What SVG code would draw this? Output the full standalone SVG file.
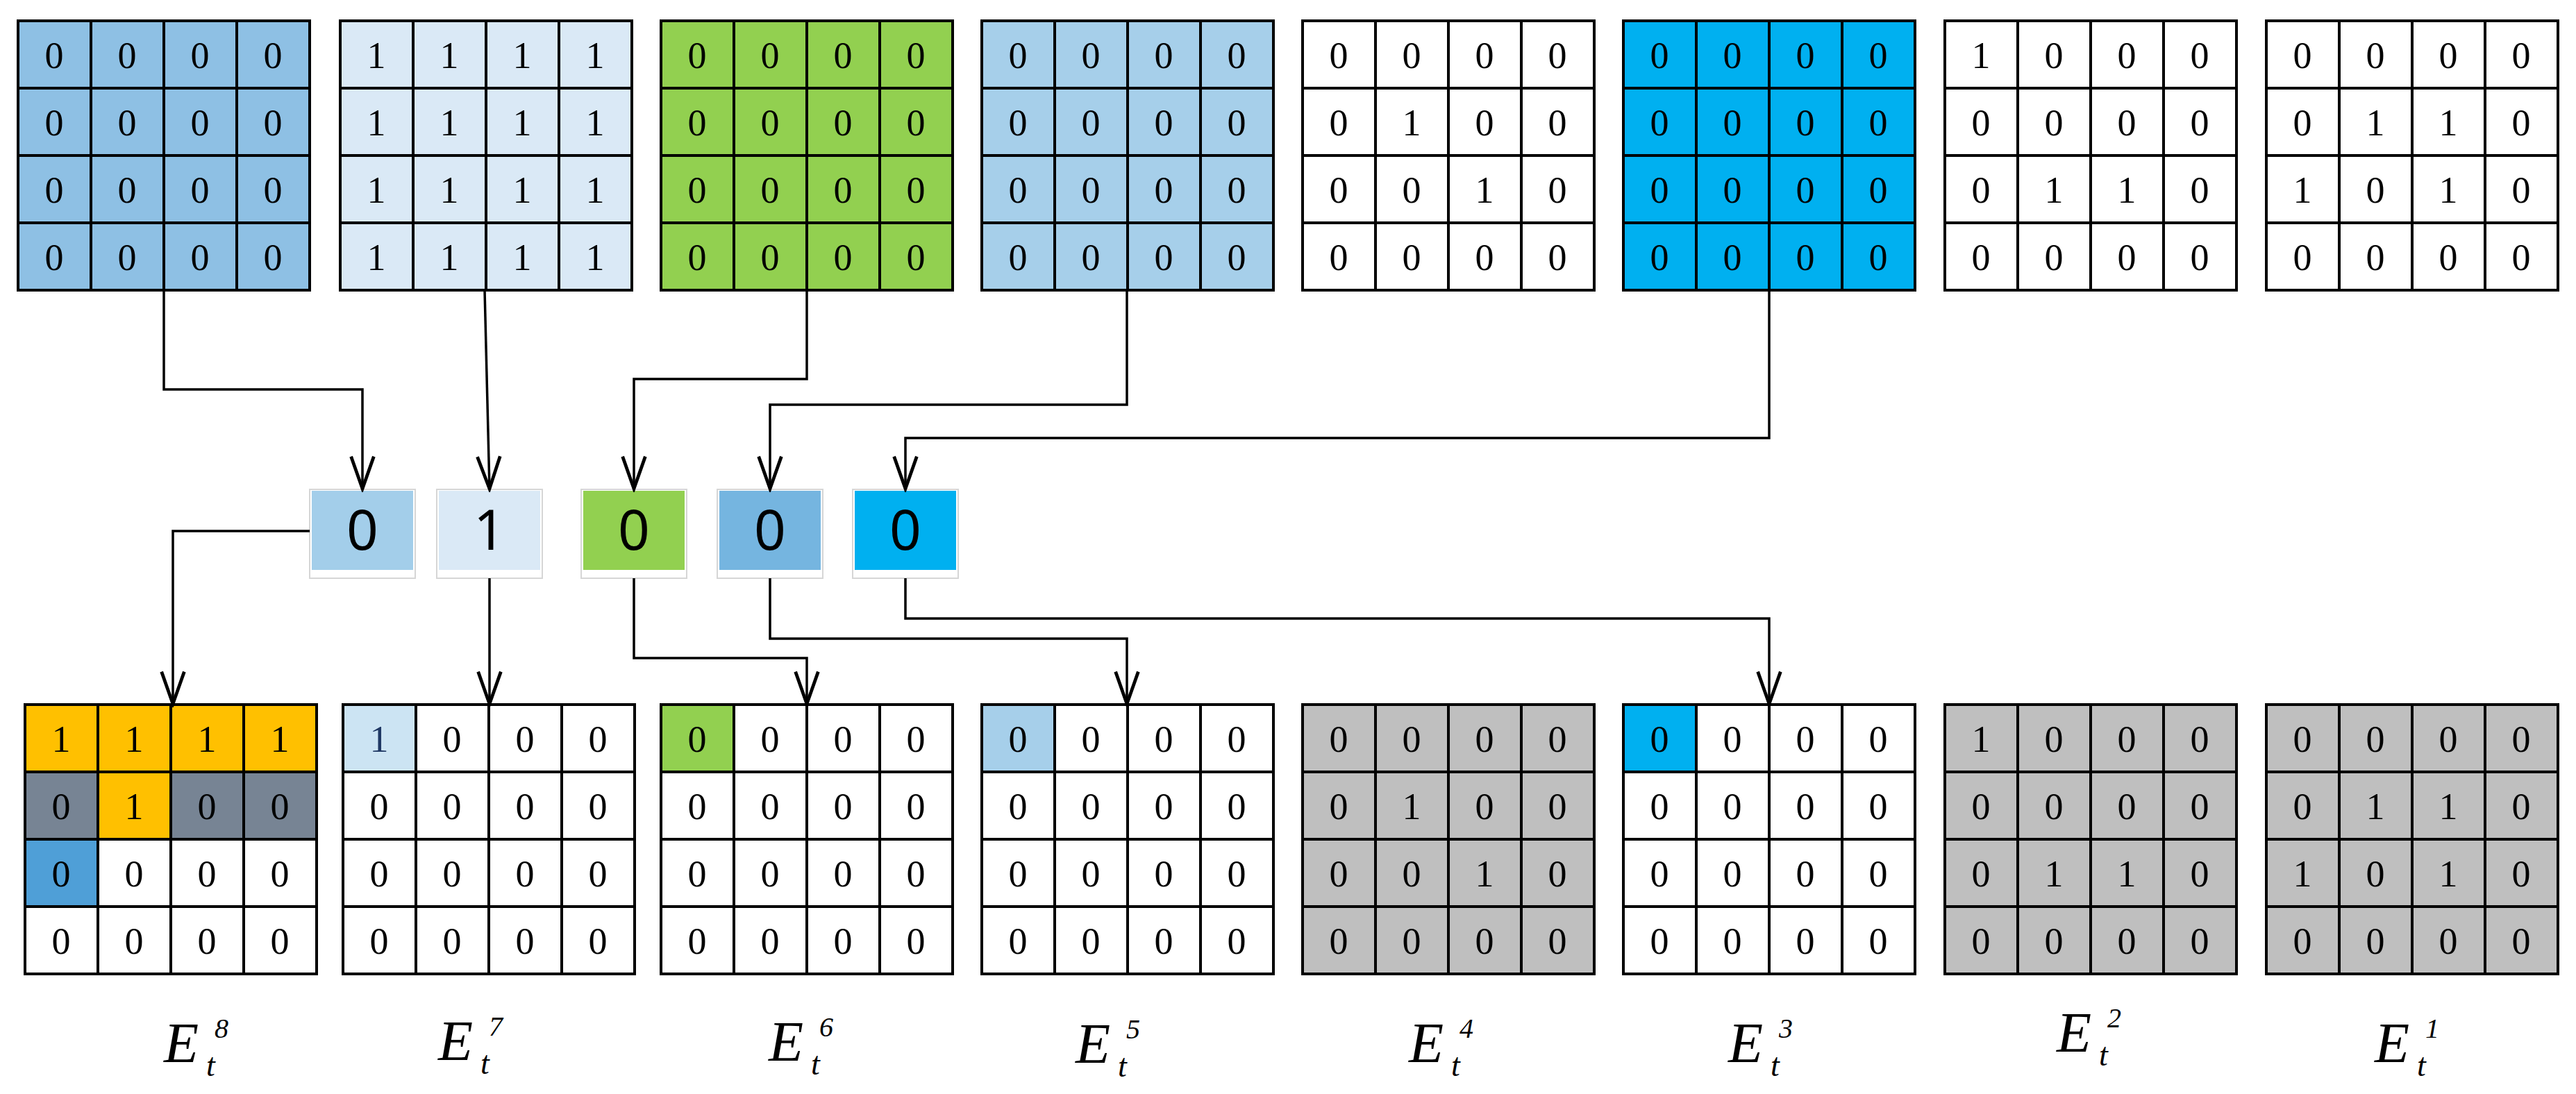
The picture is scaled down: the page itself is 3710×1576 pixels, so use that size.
<svg xmlns="http://www.w3.org/2000/svg" width="3710" height="1576" viewBox="0 0 3710 1576">
<style>
.gl{fill:none;stroke:#000;stroke-width:4}
.c{font-family:"Liberation Serif","Times New Roman",serif;font-size:54px;text-anchor:middle;fill:#000}
.b{font-family:"Noto Sans","Open Sans",sans-serif;font-size:80px;text-anchor:middle;fill:#000}
.ob{fill:#fff;stroke:#d6d6d6;stroke-width:2}
.cn{fill:none;stroke:#000;stroke-width:3.5;marker-end:url(#ah)}
.E{font-family:"Liberation Serif","Times New Roman",serif;font-style:italic;fill:#000}
</style>
<defs>
<marker id="ah" markerUnits="userSpaceOnUse" markerWidth="60" markerHeight="60" viewBox="-40 -20 44 40" refX="0" refY="0" orient="auto">
<path d="M-34,-12 L0,0 L-34,12" fill="none" stroke="#000" stroke-width="3.5"/>
</marker>
<path id="gridlines" d="M0,0H420V388H0Z M105,0V388 M210,0V388 M315,0V388 M0,97H420 M0,194H420 M0,291H420" class="gl"/>
</defs>

<g id="top1" transform="translate(26,30)"><rect width="420" height="388" fill="#8EC0E4"/><use href="#gridlines"/>
<text class="c" x="52" y="68">0</text><text class="c" x="157" y="68">0</text><text class="c" x="262" y="68">0</text><text class="c" x="367" y="68">0</text>
<text class="c" x="52" y="165">0</text><text class="c" x="157" y="165">0</text><text class="c" x="262" y="165">0</text><text class="c" x="367" y="165">0</text>
<text class="c" x="52" y="262">0</text><text class="c" x="157" y="262">0</text><text class="c" x="262" y="262">0</text><text class="c" x="367" y="262">0</text>
<text class="c" x="52" y="359">0</text><text class="c" x="157" y="359">0</text><text class="c" x="262" y="359">0</text><text class="c" x="367" y="359">0</text></g>

<g id="top2" transform="translate(490,30)"><rect width="420" height="388" fill="#DAE9F6"/><use href="#gridlines"/>
<text class="c" x="52" y="68">1</text><text class="c" x="157" y="68">1</text><text class="c" x="262" y="68">1</text><text class="c" x="367" y="68">1</text>
<text class="c" x="52" y="165">1</text><text class="c" x="157" y="165">1</text><text class="c" x="262" y="165">1</text><text class="c" x="367" y="165">1</text>
<text class="c" x="52" y="262">1</text><text class="c" x="157" y="262">1</text><text class="c" x="262" y="262">1</text><text class="c" x="367" y="262">1</text>
<text class="c" x="52" y="359">1</text><text class="c" x="157" y="359">1</text><text class="c" x="262" y="359">1</text><text class="c" x="367" y="359">1</text></g>

<g id="top3" transform="translate(952,30)"><rect width="420" height="388" fill="#92D050"/><use href="#gridlines"/>
<text class="c" x="52" y="68">0</text><text class="c" x="157" y="68">0</text><text class="c" x="262" y="68">0</text><text class="c" x="367" y="68">0</text>
<text class="c" x="52" y="165">0</text><text class="c" x="157" y="165">0</text><text class="c" x="262" y="165">0</text><text class="c" x="367" y="165">0</text>
<text class="c" x="52" y="262">0</text><text class="c" x="157" y="262">0</text><text class="c" x="262" y="262">0</text><text class="c" x="367" y="262">0</text>
<text class="c" x="52" y="359">0</text><text class="c" x="157" y="359">0</text><text class="c" x="262" y="359">0</text><text class="c" x="367" y="359">0</text></g>

<g id="top4" transform="translate(1414,30)"><rect width="420" height="388" fill="#A6CFEA"/><use href="#gridlines"/>
<text class="c" x="52" y="68">0</text><text class="c" x="157" y="68">0</text><text class="c" x="262" y="68">0</text><text class="c" x="367" y="68">0</text>
<text class="c" x="52" y="165">0</text><text class="c" x="157" y="165">0</text><text class="c" x="262" y="165">0</text><text class="c" x="367" y="165">0</text>
<text class="c" x="52" y="262">0</text><text class="c" x="157" y="262">0</text><text class="c" x="262" y="262">0</text><text class="c" x="367" y="262">0</text>
<text class="c" x="52" y="359">0</text><text class="c" x="157" y="359">0</text><text class="c" x="262" y="359">0</text><text class="c" x="367" y="359">0</text></g>

<g id="top5" transform="translate(1876,30)"><rect width="420" height="388" fill="#fff"/><use href="#gridlines"/>
<text class="c" x="52" y="68">0</text><text class="c" x="157" y="68">0</text><text class="c" x="262" y="68">0</text><text class="c" x="367" y="68">0</text>
<text class="c" x="52" y="165">0</text><text class="c" x="157" y="165">1</text><text class="c" x="262" y="165">0</text><text class="c" x="367" y="165">0</text>
<text class="c" x="52" y="262">0</text><text class="c" x="157" y="262">0</text><text class="c" x="262" y="262">1</text><text class="c" x="367" y="262">0</text>
<text class="c" x="52" y="359">0</text><text class="c" x="157" y="359">0</text><text class="c" x="262" y="359">0</text><text class="c" x="367" y="359">0</text></g>

<g id="top6" transform="translate(2338,30)"><rect width="420" height="388" fill="#00B0F0"/><use href="#gridlines"/>
<text class="c" x="52" y="68">0</text><text class="c" x="157" y="68">0</text><text class="c" x="262" y="68">0</text><text class="c" x="367" y="68">0</text>
<text class="c" x="52" y="165">0</text><text class="c" x="157" y="165">0</text><text class="c" x="262" y="165">0</text><text class="c" x="367" y="165">0</text>
<text class="c" x="52" y="262">0</text><text class="c" x="157" y="262">0</text><text class="c" x="262" y="262">0</text><text class="c" x="367" y="262">0</text>
<text class="c" x="52" y="359">0</text><text class="c" x="157" y="359">0</text><text class="c" x="262" y="359">0</text><text class="c" x="367" y="359">0</text></g>

<g id="top7" transform="translate(2801,30)"><rect width="420" height="388" fill="#fff"/><use href="#gridlines"/>
<text class="c" x="52" y="68">1</text><text class="c" x="157" y="68">0</text><text class="c" x="262" y="68">0</text><text class="c" x="367" y="68">0</text>
<text class="c" x="52" y="165">0</text><text class="c" x="157" y="165">0</text><text class="c" x="262" y="165">0</text><text class="c" x="367" y="165">0</text>
<text class="c" x="52" y="262">0</text><text class="c" x="157" y="262">1</text><text class="c" x="262" y="262">1</text><text class="c" x="367" y="262">0</text>
<text class="c" x="52" y="359">0</text><text class="c" x="157" y="359">0</text><text class="c" x="262" y="359">0</text><text class="c" x="367" y="359">0</text></g>

<g id="top8" transform="translate(3264,30)"><rect width="420" height="388" fill="#fff"/><use href="#gridlines"/>
<text class="c" x="52" y="68">0</text><text class="c" x="157" y="68">0</text><text class="c" x="262" y="68">0</text><text class="c" x="367" y="68">0</text>
<text class="c" x="52" y="165">0</text><text class="c" x="157" y="165">1</text><text class="c" x="262" y="165">1</text><text class="c" x="367" y="165">0</text>
<text class="c" x="52" y="262">1</text><text class="c" x="157" y="262">0</text><text class="c" x="262" y="262">1</text><text class="c" x="367" y="262">0</text>
<text class="c" x="52" y="359">0</text><text class="c" x="157" y="359">0</text><text class="c" x="262" y="359">0</text><text class="c" x="367" y="359">0</text></g>

<g id="box1"><rect class="ob" x="446" y="705" width="152" height="128"/><rect x="449" y="707" width="146" height="114" fill="#A3CEEA"/><text class="b" x="522" y="792">0</text></g>
<g id="box2"><rect class="ob" x="629" y="705" width="152" height="128"/><rect x="632" y="707" width="146" height="114" fill="#DAE9F6"/><text class="b" x="705" y="792">1</text></g>
<g id="box3"><rect class="ob" x="837" y="705" width="152" height="128"/><rect x="840" y="707" width="146" height="114" fill="#92D050"/><text class="b" x="913" y="792">0</text></g>
<g id="box4"><rect class="ob" x="1033" y="705" width="152" height="128"/><rect x="1036" y="707" width="146" height="114" fill="#75B5E0"/><text class="b" x="1109" y="792">0</text></g>
<g id="box5"><rect class="ob" x="1228" y="705" width="152" height="128"/><rect x="1231" y="707" width="146" height="114" fill="#00B0F0"/><text class="b" x="1304" y="792">0</text></g>

<g id="bot8" transform="translate(36,1015)"><rect width="420" height="388" fill="#fff"/><rect width="420" height="97" fill="#FFC000"/><rect y="97" width="420" height="97" fill="#778494"/><rect x="105" y="97" width="105" height="97" fill="#FFC000"/><rect y="194" width="105" height="97" fill="#4F9FD7"/><use href="#gridlines"/>
<text class="c" x="52" y="68">1</text><text class="c" x="157" y="68">1</text><text class="c" x="262" y="68">1</text><text class="c" x="367" y="68">1</text>
<text class="c" x="52" y="165">0</text><text class="c" x="157" y="165">1</text><text class="c" x="262" y="165">0</text><text class="c" x="367" y="165">0</text>
<text class="c" x="52" y="262">0</text><text class="c" x="157" y="262">0</text><text class="c" x="262" y="262">0</text><text class="c" x="367" y="262">0</text>
<text class="c" x="52" y="359">0</text><text class="c" x="157" y="359">0</text><text class="c" x="262" y="359">0</text><text class="c" x="367" y="359">0</text>
<text class="E" x="200" y="515" font-size="82">E</text><text class="E" x="273" y="480" font-size="40" font-style="normal">8</text><text class="E" x="261" y="535" font-size="46">t</text></g>

<g id="bot7" transform="translate(494,1015)"><rect width="420" height="388" fill="#fff"/><rect width="105" height="97" fill="#CCE4F3"/><use href="#gridlines"/>
<text class="c" x="52" y="68" fill="#1F3864" style="fill:#1F3864">1</text><text class="c" x="157" y="68">0</text><text class="c" x="262" y="68">0</text><text class="c" x="367" y="68">0</text>
<text class="c" x="52" y="165">0</text><text class="c" x="157" y="165">0</text><text class="c" x="262" y="165">0</text><text class="c" x="367" y="165">0</text>
<text class="c" x="52" y="262">0</text><text class="c" x="157" y="262">0</text><text class="c" x="262" y="262">0</text><text class="c" x="367" y="262">0</text>
<text class="c" x="52" y="359">0</text><text class="c" x="157" y="359">0</text><text class="c" x="262" y="359">0</text><text class="c" x="367" y="359">0</text>
<text class="E" x="137" y="512" font-size="82">E</text><text class="E" x="210" y="477" font-size="40" font-style="normal">7</text><text class="E" x="198" y="532" font-size="46">t</text></g>

<g id="bot6" transform="translate(952,1015)"><rect width="420" height="388" fill="#fff"/><rect width="105" height="97" fill="#92D050"/><use href="#gridlines"/>
<text class="c" x="52" y="68">0</text><text class="c" x="157" y="68">0</text><text class="c" x="262" y="68">0</text><text class="c" x="367" y="68">0</text>
<text class="c" x="52" y="165">0</text><text class="c" x="157" y="165">0</text><text class="c" x="262" y="165">0</text><text class="c" x="367" y="165">0</text>
<text class="c" x="52" y="262">0</text><text class="c" x="157" y="262">0</text><text class="c" x="262" y="262">0</text><text class="c" x="367" y="262">0</text>
<text class="c" x="52" y="359">0</text><text class="c" x="157" y="359">0</text><text class="c" x="262" y="359">0</text><text class="c" x="367" y="359">0</text>
<text class="E" x="155" y="513" font-size="82">E</text><text class="E" x="228" y="478" font-size="40" font-style="normal">6</text><text class="E" x="216" y="533" font-size="46">t</text></g>

<g id="bot5" transform="translate(1414,1015)"><rect width="420" height="388" fill="#fff"/><rect width="105" height="97" fill="#A6CFEA"/><use href="#gridlines"/>
<text class="c" x="52" y="68">0</text><text class="c" x="157" y="68">0</text><text class="c" x="262" y="68">0</text><text class="c" x="367" y="68">0</text>
<text class="c" x="52" y="165">0</text><text class="c" x="157" y="165">0</text><text class="c" x="262" y="165">0</text><text class="c" x="367" y="165">0</text>
<text class="c" x="52" y="262">0</text><text class="c" x="157" y="262">0</text><text class="c" x="262" y="262">0</text><text class="c" x="367" y="262">0</text>
<text class="c" x="52" y="359">0</text><text class="c" x="157" y="359">0</text><text class="c" x="262" y="359">0</text><text class="c" x="367" y="359">0</text>
<text class="E" x="135" y="516" font-size="82">E</text><text class="E" x="208" y="481" font-size="40" font-style="normal">5</text><text class="E" x="196" y="536" font-size="46">t</text></g>

<g id="bot4" transform="translate(1876,1015)"><rect width="420" height="388" fill="#BFBFBF"/><use href="#gridlines"/>
<text class="c" x="52" y="68">0</text><text class="c" x="157" y="68">0</text><text class="c" x="262" y="68">0</text><text class="c" x="367" y="68">0</text>
<text class="c" x="52" y="165">0</text><text class="c" x="157" y="165">1</text><text class="c" x="262" y="165">0</text><text class="c" x="367" y="165">0</text>
<text class="c" x="52" y="262">0</text><text class="c" x="157" y="262">0</text><text class="c" x="262" y="262">1</text><text class="c" x="367" y="262">0</text>
<text class="c" x="52" y="359">0</text><text class="c" x="157" y="359">0</text><text class="c" x="262" y="359">0</text><text class="c" x="367" y="359">0</text>
<text class="E" x="153" y="515" font-size="82">E</text><text class="E" x="226" y="480" font-size="40" font-style="normal">4</text><text class="E" x="214" y="535" font-size="46">t</text></g>

<g id="bot3" transform="translate(2338,1015)"><rect width="420" height="388" fill="#fff"/><rect width="105" height="97" fill="#00B0F0"/><use href="#gridlines"/>
<text class="c" x="52" y="68">0</text><text class="c" x="157" y="68">0</text><text class="c" x="262" y="68">0</text><text class="c" x="367" y="68">0</text>
<text class="c" x="52" y="165">0</text><text class="c" x="157" y="165">0</text><text class="c" x="262" y="165">0</text><text class="c" x="367" y="165">0</text>
<text class="c" x="52" y="262">0</text><text class="c" x="157" y="262">0</text><text class="c" x="262" y="262">0</text><text class="c" x="367" y="262">0</text>
<text class="c" x="52" y="359">0</text><text class="c" x="157" y="359">0</text><text class="c" x="262" y="359">0</text><text class="c" x="367" y="359">0</text>
<text class="E" x="151" y="515" font-size="82">E</text><text class="E" x="224" y="480" font-size="40" font-style="normal">3</text><text class="E" x="212" y="535" font-size="46">t</text></g>

<g id="bot2" transform="translate(2801,1015)"><rect width="420" height="388" fill="#BFBFBF"/><use href="#gridlines"/>
<text class="c" x="52" y="68">1</text><text class="c" x="157" y="68">0</text><text class="c" x="262" y="68">0</text><text class="c" x="367" y="68">0</text>
<text class="c" x="52" y="165">0</text><text class="c" x="157" y="165">0</text><text class="c" x="262" y="165">0</text><text class="c" x="367" y="165">0</text>
<text class="c" x="52" y="262">0</text><text class="c" x="157" y="262">1</text><text class="c" x="262" y="262">1</text><text class="c" x="367" y="262">0</text>
<text class="c" x="52" y="359">0</text><text class="c" x="157" y="359">0</text><text class="c" x="262" y="359">0</text><text class="c" x="367" y="359">0</text>
<text class="E" x="161" y="500" font-size="82">E</text><text class="E" x="234" y="465" font-size="40" font-style="normal">2</text><text class="E" x="222" y="520" font-size="46">t</text></g>

<g id="bot1" transform="translate(3264,1015)"><rect width="420" height="388" fill="#BFBFBF"/><use href="#gridlines"/>
<text class="c" x="52" y="68">0</text><text class="c" x="157" y="68">0</text><text class="c" x="262" y="68">0</text><text class="c" x="367" y="68">0</text>
<text class="c" x="52" y="165">0</text><text class="c" x="157" y="165">1</text><text class="c" x="262" y="165">1</text><text class="c" x="367" y="165">0</text>
<text class="c" x="52" y="262">1</text><text class="c" x="157" y="262">0</text><text class="c" x="262" y="262">1</text><text class="c" x="367" y="262">0</text>
<text class="c" x="52" y="359">0</text><text class="c" x="157" y="359">0</text><text class="c" x="262" y="359">0</text><text class="c" x="367" y="359">0</text>
<text class="E" x="156" y="515" font-size="82">E</text><text class="E" x="229" y="480" font-size="40" font-style="normal">1</text><text class="E" x="217" y="535" font-size="46">t</text></g>

<g id="connectors">
<path class="cn" d="M236,418 V561 H522 V704"/>
<path class="cn" d="M698,418 L705,704"/>
<path class="cn" d="M1162,418 V546 H913 V704"/>
<path class="cn" d="M1623,418 V583 H1109 V704"/>
<path class="cn" d="M2548,418 V631 H1304 V704"/>
<path class="cn" d="M446,765 H249 V1014"/>
<path class="cn" d="M705,833 V1014"/>
<path class="cn" d="M913,833 V948 H1162 V1014"/>
<path class="cn" d="M1109,833 V920 H1623 V1014"/>
<path class="cn" d="M1304,833 V891 H2548 V1014"/>
</g>
</svg>
